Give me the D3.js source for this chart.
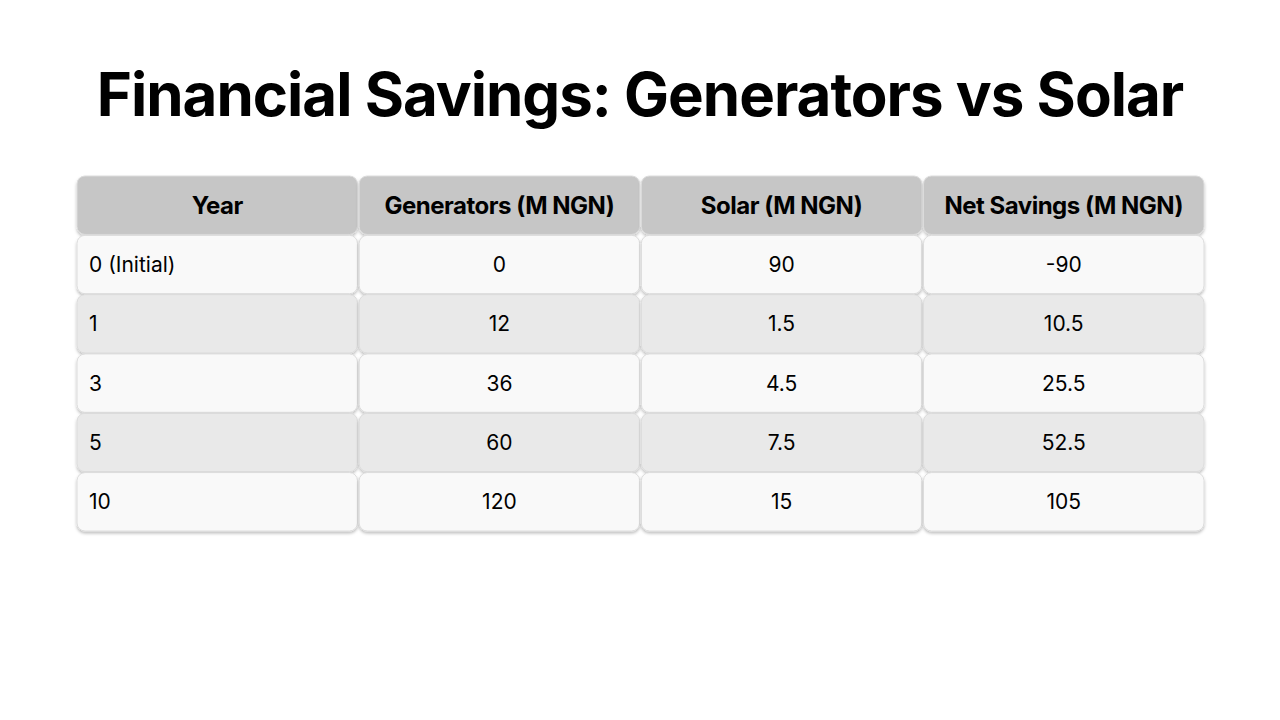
<!DOCTYPE html>
<html><head><meta charset="utf-8">
<script src="https://cdn.jsdelivr.net/npm/d3@7"></script>
<style>body{margin:0;background:#fff;}</style>
</head><body><svg id="c" width="1280" height="720"></svg>
<script>
const title = "Financial Savings: Generators vs Solar";
const headers = ["Year", "Generators (M NGN)", "Solar (M NGN)", "Net Savings (M NGN)"];
const years = ["0 (Initial)", "1", "3", "5", "10"];
const generators = ["0", "12", "36", "60", "120"];
const solar = ["90", "1.5", "4.5", "7.5", "15"];
const netSavings = ["-90", "10.5", "25.5", "52.5", "105"];

const svg = d3.select("#c");
const font = "Inter, 'Open Sans', sans-serif";
const defs = svg.append("defs");
const f = defs.append("filter").attr("id","sh").attr("x","-10%").attr("y","-20%").attr("width","120%").attr("height","150%");
f.append("feDropShadow").attr("dx",0).attr("dy",2).attr("stdDeviation",1.6).attr("flood-color","#000").attr("flood-opacity",0.25);

svg.append("text").attr("x",640).attr("y",116).attr("text-anchor","middle")
  .attr("font-family",font).attr("font-weight",700).attr("font-size",60).attr("letter-spacing",-1)
  .attr("fill","#000").text(title);

const x = d3.scaleBand().domain(d3.range(4)).range([77,1204]).paddingInner(0.006);
const rowsY = ["h"].concat(d3.range(5));
const y = d3.scaleBand().domain(rowsY).range([176,531]).paddingInner(0.015);

const rows = [headers].concat(years.map((yv,i)=>[yv,generators[i],solar[i],netSavings[i]]));
rows.forEach((row,ri)=>{
  const key = rowsY[ri];
  row.forEach((txt,ci)=>{
    const g = svg.append("g");
    const fill = ri===0 ? "#c6c6c6" : (ri%2===1 ? "#f9f9f9" : "#e9e9e9");
    g.append("rect").attr("x",x(ci)).attr("y",y(key)).attr("width",x.bandwidth()).attr("height",y.bandwidth())
      .attr("rx",8).attr("fill",fill).attr("stroke","#dcdcdc").attr("stroke-width",1).attr("filter","url(#sh)");
    const left = ri>0 && ci===0;
    g.append("text").attr("x", left ? x(ci)+12 : x(ci)+x.bandwidth()/2)
      .attr("y", y(key)+y.bandwidth()/2).attr("dy","0.36em")
      .attr("text-anchor", left ? "start" : "middle")
      .attr("font-family",font).attr("font-size", ri===0 ? 24 : 21)
      .attr("font-weight", ri===0 ? 700 : 400).attr("letter-spacing", ri===0 ? -0.5 : 0)
      .attr("fill","#000").text(txt);
  });
});
</script></body></html>
